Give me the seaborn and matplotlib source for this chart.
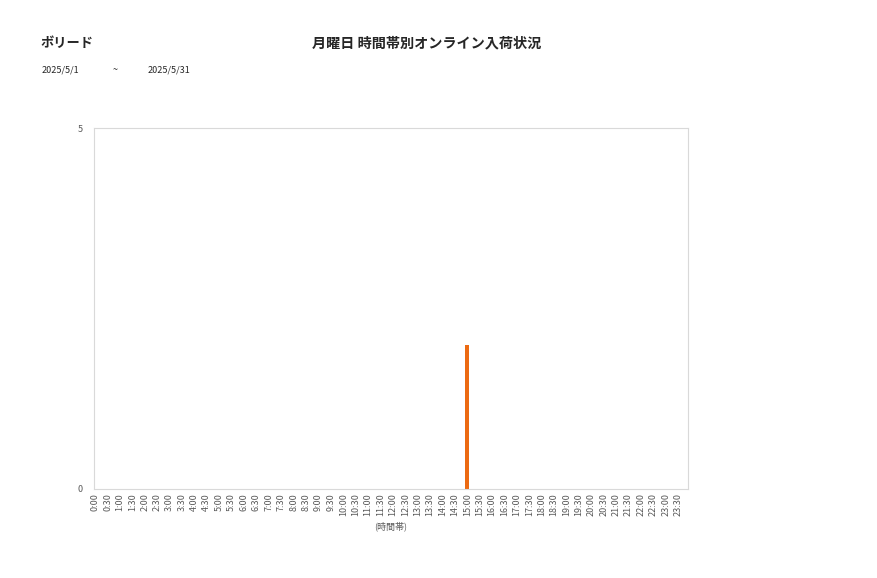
import matplotlib
matplotlib.use("Agg")
import matplotlib.pyplot as plt
import seaborn as sns
import pandas as pd

# time slots every 30 minutes
time_slots = [f"{h}:{m:02d}" for h in range(24) for m in (0, 30)]
counts = [0] * 48
counts[time_slots.index("15:00")] = 2

shop_name = "ボリード"
chart_title = "月曜日 時間帯別オンライン入荷状況"
date_from = "2025/5/1"
date_to = "2025/5/31"

sns.set_style("white")
plt.rcParams['font.family'] = ['Noto Sans CJK JP', 'DejaVu Sans']

df = pd.DataFrame({"slot": time_slots, "count": counts})

fig = plt.figure(figsize=(8.77, 5.78), dpi=100)
ax = fig.add_axes([94 / 877, 1 - 489 / 578, 594 / 877, 361 / 578])

sns.barplot(data=df, x="slot", y="count", color="#EC6A12", width=0.3,
            saturation=1, linewidth=0, ax=ax)

ax.set_xlim(-0.1, 47.8)
ax.set_ylim(0, 5)
ax.set_yticks([0, 5])
ax.set_xticks(range(48))
ax.set_xticklabels(time_slots, rotation=90)
ax.tick_params(axis="both", length=0, labelsize=6.5, colors="#595959", pad=3)
ax.tick_params(axis="y", pad=8)
ax.set_ylabel("")
ax.set_xlabel("(時間帯)", fontsize=6.5, color="#595959", labelpad=4)
for s in ax.spines.values():
    s.set_color("#d9d9d9")
    s.set_linewidth(0.8)

fig.text(40 / 877, 1 - 43 / 578, shop_name, fontsize=9.5, fontweight="bold",
         va="center", ha="left")
fig.text(427 / 877, 1 - 43 / 578, chart_title, fontsize=10.2, fontweight="bold",
         va="center", ha="center")
fig.text(42 / 877, 1 - 70 / 578, date_from, fontsize=6.5, va="center", ha="left")
fig.text(115 / 877, 1 - 70 / 578, "~", fontsize=6.5, va="center", ha="center")
fig.text(148 / 877, 1 - 70 / 578, date_to, fontsize=6.5, va="center", ha="left")

fig.savefig("out.png", dpi=100)
